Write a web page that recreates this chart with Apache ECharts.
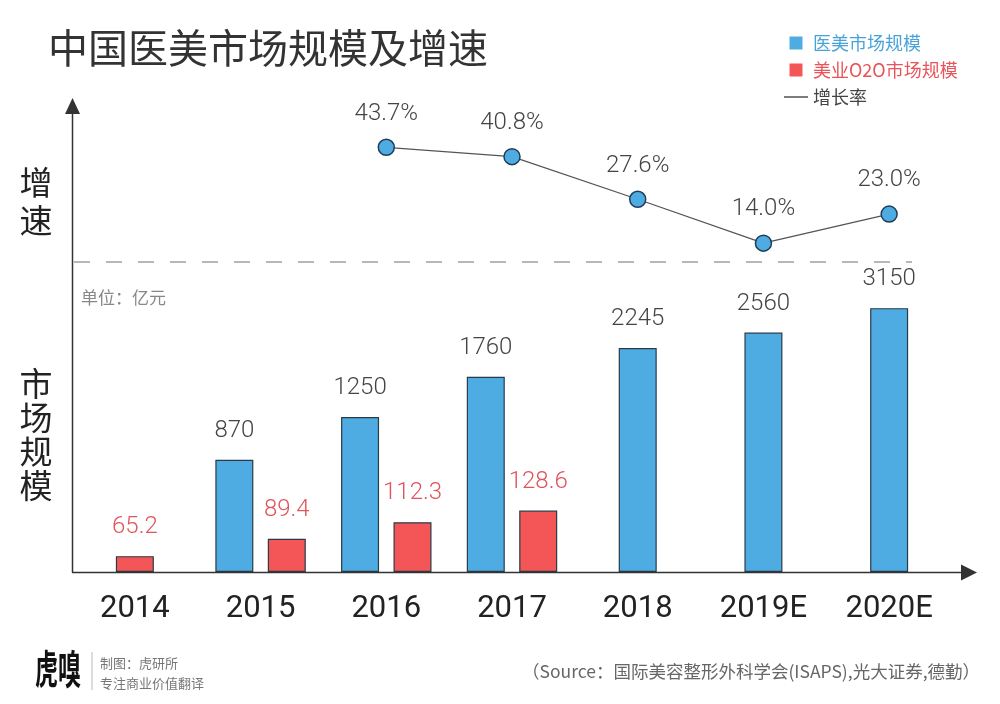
<!DOCTYPE html>
<html>
<head>
<meta charset="utf-8">
<script src="https://cdn.jsdelivr.net/npm/echarts@6/dist/echarts.min.js"></script>
<style>
html,body{margin:0;padding:0;background:#fff;}
#chart{width:1000px;height:704px;}
</style>
</head>
<body>
<div id="chart"></div>
<script>
// ---- data ----
const years = ['2014', '2015', '2016', '2017', '2018', '2019E', '2020E'];
const medMarket = [null, 870, 1250, 1760, 2245, 2560, 3150];      // 医美市场规模 (亿元)
const o2oMarket = [65.2, 89.4, 112.3, 128.6, null, null, null];    // 美业O2O市场规模 (亿元)
const growth = [null, null, 43.7, 40.8, 27.6, 14.0, 23.0];          // 增长率 (%)

// bars that share a year with the other series sit side by side, the rest are centred
const bluePaired = medMarket.map((v, i) => (v != null && o2oMarket[i] != null) ? v : null);
const blueSingle = medMarket.map((v, i) => (v != null && o2oMarket[i] == null) ? v : null);
const redPaired = o2oMarket.map((v, i) => (v != null && medMarket[i] != null) ? v : null);
const redSingle = o2oMarket.map((v, i) => (v != null && medMarket[i] == null) ? v : null);

const BLUE = '#4facE2';
const RED = '#f45657';
const BORDER = '#2a3b48';
const NUM_FONT = 'Roboto';
const CJK = '"Noto Sans CJK SC", "Noto Sans", sans-serif';

const chart = echarts.init(document.getElementById('chart'), null, {renderer: 'canvas'});

const blueLabel = {show: true, position: 'top', distance: 17, color: '#444444', fontSize: 24, fontFamily: NUM_FONT, fontWeight: 300};
const redLabel = {show: true, position: 'top', distance: 17, color: '#e0545b', fontSize: 24, fontFamily: NUM_FONT, fontWeight: 300};

const hiddenCat = {type: 'category', data: years, show: false, gridIndex: 0};

const option = {
  backgroundColor: '#ffffff',
  animation: false,
  title: {
    text: '中国医美市场规模及增速',
    left: 48, top: 28, padding: 0,
    textStyle: {fontFamily: CJK, fontSize: 40, fontWeight: 'normal', color: '#333333', lineHeight: 40}
  },
  legend: {
    orient: 'vertical',
    left: 784, top: 34, padding: 0,
    itemWidth: 24, itemHeight: 13, itemGap: 9,
    symbolKeepAspect: true,
    selectedMode: false,
    textStyle: {fontFamily: CJK, fontSize: 18, lineHeight: 18},
    data: [
      {name: '医美市场规模', icon: 'path://M0,0h10v10h-10z', itemStyle: {color: BLUE, borderWidth: 0}, textStyle: {color: '#4aa3d8'}},
      {name: '美业O2O市场规模', icon: 'path://M0,0h10v10h-10z', itemStyle: {color: RED, borderWidth: 0}, textStyle: {color: '#e8545a'}},
      {name: '增长率', icon: 'path://M0,0h24v1.4h-24z', itemStyle: {color: '#444444', borderWidth: 0}, textStyle: {color: '#444444'}}
    ]
  },
  grid: {left: 72, right: 48, top: 100, bottom: 132, containLabel: false, outerBoundsMode: 'none'},
  xAxis: [
    {
      type: 'category', data: years, gridIndex: 0,
      axisLine: {show: false}, axisTick: {show: false},
      axisLabel: {margin: 22, fontFamily: NUM_FONT, fontSize: 31, color: '#222222', lineHeight: 31}
    },
    hiddenCat,
    Object.assign({}, hiddenCat)
  ],
  yAxis: [
    {type: 'log', logBase: 10, min: 335.9, max: 18420, startValue: 335.9, show: false, splitLine: {show: false}},
    {type: 'value', min: 43.19, max: 699.1, startValue: 43.19, show: false, splitLine: {show: false}},
    {type: 'value', min: -87.88, max: 58.35, show: false, splitLine: {show: false}}
  ],
  series: [
    {
      name: '医美市场规模', type: 'bar', xAxisIndex: 0, yAxisIndex: 0,
      data: bluePaired, barWidth: 38, barGap: '38%', clip: true,
      itemStyle: {color: BLUE, borderColor: BORDER, borderWidth: 1.2},
      label: blueLabel
    },
    {
      name: '美业O2O市场规模', type: 'bar', xAxisIndex: 0, yAxisIndex: 1,
      data: redPaired, barWidth: 38, barGap: '38%', clip: true,
      itemStyle: {color: RED, borderColor: BORDER, borderWidth: 1.2},
      label: redLabel
    },
    {
      name: '医美市场规模', type: 'bar', xAxisIndex: 1, yAxisIndex: 0,
      data: blueSingle, barWidth: 38, clip: true,
      itemStyle: {color: BLUE, borderColor: BORDER, borderWidth: 1.2},
      label: blueLabel
    },
    {
      name: '美业O2O市场规模', type: 'bar', xAxisIndex: 2, yAxisIndex: 1,
      data: redSingle, barWidth: 38, clip: true,
      itemStyle: {color: RED, borderColor: BORDER, borderWidth: 1.2},
      label: redLabel
    },
    {
      name: '增长率', type: 'line', xAxisIndex: 0, yAxisIndex: 2,
      data: growth, symbol: 'circle', symbolSize: 16,
      lineStyle: {color: '#555555', width: 1.3},
      itemStyle: {color: BLUE, borderColor: '#1f3d57', borderWidth: 1.5},
      label: {
        show: true, position: 'top', distance: 13, color: '#444444',
        fontSize: 24, fontFamily: NUM_FONT, fontWeight: 300,
        formatter: p => p.value.toFixed(1) + '%'
      },
      z: 5
    }
  ],
  graphic: [
    // axes with arrows
    {type: 'line', shape: {x1: 72.5, y1: 572.5, x2: 72.5, y2: 112}, style: {stroke: '#333', lineWidth: 1.5}, z: 10},
    {type: 'polygon', shape: {points: [[72.5, 98], [65, 114], [80, 114]]}, style: {fill: '#333'}, z: 10},
    {type: 'line', shape: {x1: 72, y1: 572.5, x2: 963, y2: 572.5}, style: {stroke: '#333', lineWidth: 1.5}, z: 10},
    {type: 'polygon', shape: {points: [[977, 572.5], [961, 564.5], [961, 580.5]]}, style: {fill: '#333'}, z: 10},
    // separator
    {type: 'line', shape: {x1: 74, y1: 262, x2: 912, y2: 262}, style: {stroke: '#a0a0a0', lineWidth: 1.5, lineDash: [16, 16]}, z: 10},
    // unit
    {type: 'text', left: 81, top: 289, style: {text: '单位：亿元', font: '17px "Noto Sans CJK SC"', fill: '#888888'}},
    // vertical section labels
    {type: 'text', x: 36, y: 163, style: {text: '增\n速', font: '33px "Noto Sans CJK SC"', fill: '#222222', align: 'center', verticalAlign: 'top', lineHeight: 38}},
    {type: 'text', x: 36, y: 366, style: {text: '市\n场\n规\n模', font: '33px "Noto Sans CJK SC"', fill: '#222222', align: 'center', verticalAlign: 'top', lineHeight: 34}},
    // footer
    {type: 'text', x: 35, y: 648, scaleY: 1.75, style: {text: '虎嗅', font: 'bold 23px "Noto Sans CJK SC"', fill: '#111111', verticalAlign: 'top', lineHeight: 24}},
    {type: 'line', shape: {x1: 92, y1: 652, x2: 92, y2: 690}, style: {stroke: '#bbbbbb', lineWidth: 1}},
    {type: 'text', x: 100, y: 657, style: {text: '制图：虎研所', font: '13px "Noto Sans CJK SC"', fill: '#777777', verticalAlign: 'top'}},
    {type: 'text', x: 100, y: 677, style: {text: '专注商业价值翻译', font: '13px "Noto Sans CJK SC"', fill: '#777777', verticalAlign: 'top'}},
    {type: 'text', x: 980, y: 671, style: {text: '（Source：国际美容整形外科学会(ISAPS),光大证券,德勤）', font: '17.5px "Noto Sans CJK SC"', fill: '#666666', align: 'right', verticalAlign: 'middle'}}
  ]
};

chart.setOption(option);
</script>
</body>
</html>
